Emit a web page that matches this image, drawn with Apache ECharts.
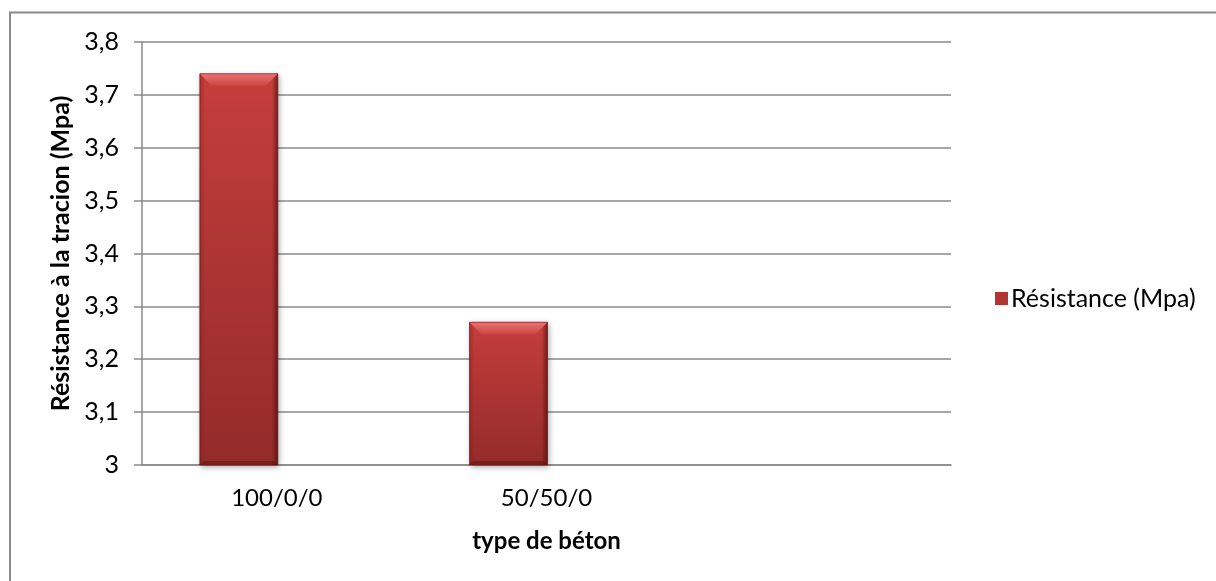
<!DOCTYPE html>
<html>
<head>
<meta charset="utf-8">
<script src="https://cdn.jsdelivr.net/npm/echarts@6/dist/echarts.min.js"></script>
<style>
  html, body { margin: 0; padding: 0; background: #ffffff; }
  #chart { width: 1216px; height: 581px; }
</style>
</head>
<body>
<div id="chart"></div>
<script>
// Concrete types on the category axis (third slot left blank)
const categories = ['100/0/0', '50/50/0', ''];
// Tensile strength, MPa
const resistance = [3.74, 3.27, null];

const yTicks = { min: 3, max: 3.8, interval: 0.1 };

const seriesName = 'Résistance (Mpa)';
const yTitle = 'Résistance à la tracion (Mpa)';
const xTitle = 'type de béton';

const FONT = 'Lato, "Open Sans", sans-serif';
const GRID_GREY = '#8a8a8a';
const BAR_WIDTH = 78;

const chart = echarts.init(document.getElementById('chart'), null, { renderer: 'canvas' });

// Bevelled bar, drawn to the left of the category centre (the workbook's
// clustered layout reserves the right half for an unused second series).
function renderBevelBar(params, api) {
  const v = api.value(1);
  if (v == null || isNaN(v)) return null;
  const top = api.coord([api.value(0), v]);
  const base = api.coord([api.value(0), yTicks.min]);
  const x0 = top[0] - BAR_WIDTH + 1;
  const w = BAR_WIDTH;
  const y0 = top[1];
  const h = base[1] - top[1];
  const b = Math.min(12, h / 4);
  const LG = echarts.graphic.LinearGradient;
  return {
    type: 'group',
    children: [
      {
        type: 'rect',
        shape: { x: x0, y: y0, width: w, height: h },
        style: {
          fill: new LG(0, 0, 0, 1, [
            { offset: 0, color: '#c53e3c' },
            { offset: 1, color: '#932b2a' }
          ]),
          shadowColor: 'rgba(0,0,0,0.35)',
          shadowBlur: 6,
          shadowOffsetX: 1,
          shadowOffsetY: 2
        }
      },
      {
        // left edge highlight
        type: 'rect',
        shape: { x: x0, y: y0, width: 5, height: h },
        style: {
          fill: new LG(0, 0, 1, 0, [
            { offset: 0, color: 'rgba(120,20,20,0.35)' },
            { offset: 1, color: 'rgba(120,20,20,0)' }
          ])
        }
      },
      {
        // right edge shade
        type: 'rect',
        shape: { x: x0 + w - 6, y: y0, width: 6, height: h },
        style: {
          fill: new LG(0, 0, 1, 0, [
            { offset: 0, color: 'rgba(60,0,0,0)' },
            { offset: 1, color: 'rgba(60,0,0,0.55)' }
          ])
        }
      },
      {
        // bottom bevel
        type: 'polygon',
        shape: { points: [[x0, y0 + h], [x0 + w, y0 + h], [x0 + w - 4, y0 + h - 4], [x0 + 4, y0 + h - 4]] },
        style: { fill: 'rgba(70,10,10,0.35)' }
      },
      {
        // top bevel
        type: 'polygon',
        shape: { points: [[x0, y0], [x0 + w, y0], [x0 + w - b, y0 + b], [x0 + b, y0 + b]] },
        style: {
          fill: new LG(0, 0, 0, 1, [
            { offset: 0, color: '#ea7472' },
            { offset: 1, color: '#cb4543' }
          ])
        }
      },
      {
        type: 'rect',
        shape: { x: x0, y: y0, width: w, height: h },
        style: { fill: 'none', stroke: 'rgba(110,20,20,0.8)', lineWidth: 0.8 }
      }
    ]
  };
}

chart.setOption({
  animation: false,
  backgroundColor: '#ffffff',
  graphic: [{
    type: 'rect',
    shape: { x: 10, y: 12.5, width: 1400, height: 800 },
    style: { fill: 'none', stroke: '#8a8a8a', lineWidth: 2 },
    silent: true, z: 0
  }],
  grid: { left: 142, right: 265, top: 42, bottom: 116, containLabel: false },
  legend: {
    data: [seriesName],
    orient: 'vertical',
    left: 990,
    top: 281,
    itemWidth: 13,
    itemHeight: 13,
    itemGap: 0,
    icon: 'rect',
    textStyle: { fontFamily: FONT, fontSize: 25, color: '#000000', padding: [0, 0, 0, -2] }
  },
  xAxis: {
    type: 'category',
    data: categories,
    axisLine: { show: true, lineStyle: { color: GRID_GREY, width: 1.5 } },
    axisTick: { show: false },
    axisLabel: { margin: 21, fontFamily: FONT, fontSize: 24, color: '#000000' },
    name: xTitle,
    nameLocation: 'middle',
    nameGap: 64,
    nameTextStyle: { fontFamily: FONT, fontSize: 24, fontWeight: 'bold', color: '#000000' }
  },
  yAxis: {
    type: 'value',
    min: yTicks.min,
    max: yTicks.max,
    interval: yTicks.interval,
    axisLine: { show: true, lineStyle: { color: GRID_GREY, width: 1.5 } },
    axisTick: { show: true, inside: false, length: 8, lineStyle: { color: GRID_GREY, width: 1.5 } },
    splitLine: { show: true, lineStyle: { color: GRID_GREY, width: 1.5 } },
    axisLabel: {
      margin: 23,
      fontFamily: FONT,
      fontSize: 25,
      color: '#000000',
      formatter: v => {
        const r = Math.round(v * 10) / 10;
        return (r % 1 === 0 ? String(r) : r.toFixed(1)).replace('.', ',');
      }
    },
    name: yTitle,
    nameLocation: 'middle',
    nameRotate: 90,
    nameGap: 68,
    nameTextStyle: { fontFamily: FONT, fontSize: 25, fontWeight: 'bold', color: '#000000' }
  },
  series: [
    {
      name: seriesName,
      type: 'custom',
      renderItem: renderBevelBar,
      itemStyle: { color: '#b33533' },
      encode: { x: 0, y: 1 },
      data: resistance
        .map((v, i) => [i, v])
        .filter(d => d[1] != null),
      z: 3
    }
  ]
});
</script>
</body>
</html>
